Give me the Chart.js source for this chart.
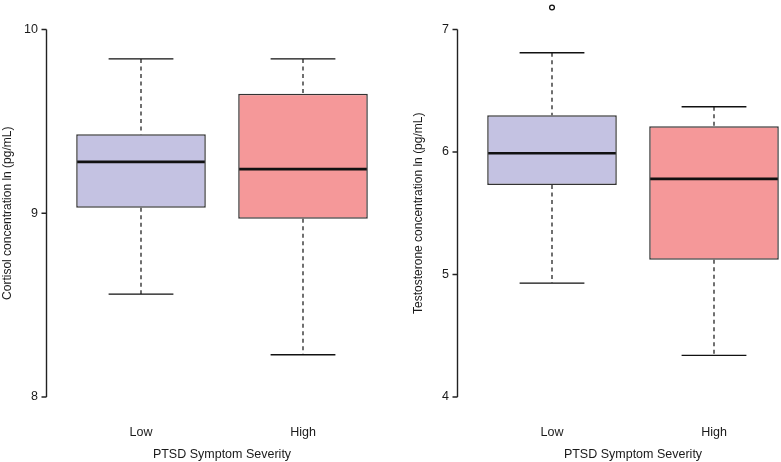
<!DOCTYPE html>
<html>
<head>
<meta charset="utf-8">
<script src="https://cdn.jsdelivr.net/npm/chart.js@4"></script>
<style>
  html, body { margin: 0; padding: 0; background: #fff; overflow: hidden; }
  body { width: 781px; height: 462px; position: relative; }
  .panel { position: absolute; top: 0; width: 384px; height: 462px; }
</style>
</head>
<body>
<div class="panel" style="left:0"><canvas id="cortisolChart"></canvas></div>
<div class="panel" style="left:411px"><canvas id="testoChart"></canvas></div>
<script>
const categories = ['Low', 'High'];
const groupColors = ['#c4c2e2', '#f59899'];

// cortisol, ln (pg/mL)
const cortisolMin = [8.56, 8.23];
const cortisolQ1 = [9.03, 8.97];
const cortisolMedian = [9.28, 9.24];
const cortisolQ3 = [9.43, 9.65];
const cortisolMax = [9.84, 9.84];
const cortisolOutliers = [[], []];
const cortisolTicks = [8, 9, 10];

// testosterone, ln (pg/mL)
const testoMin = [4.93, 4.34];
const testoQ1 = [5.73, 5.12];
const testoMedian = [5.99, 5.78];
const testoQ3 = [6.30, 6.21];
const testoMax = [6.81, 6.37];
const testoOutliers = [[7.18], []];
const testoTicks = [4, 5, 6, 7];

Chart.defaults.font.family = "'Liberation Sans', Arial, sans-serif";
Chart.defaults.font.size = 12;
Chart.defaults.color = '#1a1a1a';

/* whiskers, medians, outliers and the R-style detached axis */
const boxPlugin = {
  id: 'boxParts',
  beforeDatasetsDraw(chart, args, opts) {
    const ctx = chart.ctx, y = chart.scales.y;
    const bars = chart.getDatasetMeta(0).data;
    ctx.save();
    bars.forEach((bar, i) => {
      const half = bar.width / 4;
      const yMin = y.getPixelForValue(opts.min[i]);
      const yMax = y.getPixelForValue(opts.max[i]);
      const yQ1 = y.getPixelForValue(opts.q1[i]);
      const yQ3 = y.getPixelForValue(opts.q3[i]);
      ctx.strokeStyle = '#111';
      ctx.lineWidth = 1.2;
      ctx.setLineDash([4, 3.5]);
      ctx.beginPath();
      ctx.moveTo(bar.x, yMax); ctx.lineTo(bar.x, yQ3);
      ctx.moveTo(bar.x, yQ1); ctx.lineTo(bar.x, yMin);
      ctx.stroke();
      ctx.setLineDash([]);
      ctx.lineWidth = 1.4;
      ctx.beginPath();
      ctx.moveTo(bar.x - half, yMax); ctx.lineTo(bar.x + half, yMax);
      ctx.moveTo(bar.x - half, yMin); ctx.lineTo(bar.x + half, yMin);
      ctx.stroke();
    });
    ctx.restore();
  },
  afterDatasetsDraw(chart, args, opts) {
    const ctx = chart.ctx, y = chart.scales.y;
    const bars = chart.getDatasetMeta(0).data;
    ctx.save();
    bars.forEach((bar, i) => {
      const ym = y.getPixelForValue(opts.median[i]);
      ctx.strokeStyle = '#111';
      ctx.lineWidth = 2.7;
      ctx.beginPath();
      ctx.moveTo(bar.x - bar.width / 2 + 1, ym);
      ctx.lineTo(bar.x + bar.width / 2 - 1, ym);
      ctx.stroke();
      ctx.lineWidth = 1.3;
      opts.outliers[i].forEach(v => {
        ctx.beginPath();
        ctx.arc(bar.x, y.getPixelForValue(v), 2.4, 0, Math.PI * 2);
        ctx.stroke();
      });
    });
    // detached y axis line with outward ticks
    const ax = chart.chartArea.left - 13.5;
    const t = opts.ticks;
    ctx.strokeStyle = '#222';
    ctx.lineWidth = 1.4;
    ctx.beginPath();
    ctx.moveTo(ax, y.getPixelForValue(t[0]));
    ctx.lineTo(ax, y.getPixelForValue(t[t.length - 1]));
    t.forEach(v => {
      const py = y.getPixelForValue(v);
      ctx.moveTo(ax, py); ctx.lineTo(ax - 5, py);
    });
    ctx.stroke();
    ctx.restore();
  }
};

function makeBoxChart(id, title, q1, q3, median, min, max, outliers, ticks) {
  new Chart(document.getElementById(id), {
    type: 'bar',
    data: {
      labels: categories,
      datasets: [{
        data: q1.map((v, i) => [v, q3[i]]),
        backgroundColor: groupColors,
        borderColor: '#333',
        borderWidth: 1.5,
        borderSkipped: false,
        categoryPercentage: 1,
        barPercentage: 0.8
      }]
    },
    options: {
      responsive: false,
      animation: false,
      layout: { padding: { top: 26, right: 0, bottom: 0, left: 0 } },
      plugins: {
        legend: { display: false },
        tooltip: { enabled: false },
        boxParts: { q1, q3, median, min, max, outliers, ticks }
      },
      scales: {
        x: {
          grid: { display: false, drawTicks: false },
          border: { display: false },
          ticks: { padding: 28, font: { size: 12.5 } },
          title: { display: true, text: 'PTSD Symptom Severity', padding: { top: 0, bottom: 0 }, font: { size: 12.5 } },
          afterFit: s => { s.height = 65; }
        },
        y: {
          min: ticks[0], max: ticks[ticks.length - 1],
          grid: { display: false, drawTicks: false },
          border: { display: false },
          ticks: { stepSize: 1, padding: 22, font: { size: 12.5 } },
          title: { display: true, text: title, padding: { top: 0, bottom: 0 }, font: { size: 12 } },
          afterFit: s => { s.width = 60; }
        }
      }
    },
    plugins: [boxPlugin]
  });
}

document.querySelectorAll('canvas').forEach(c => { c.width = 384; c.height = 462; });

makeBoxChart('cortisolChart', 'Cortisol concentration ln (pg/mL)',
  cortisolQ1, cortisolQ3, cortisolMedian, cortisolMin, cortisolMax, cortisolOutliers, cortisolTicks);
makeBoxChart('testoChart', 'Testosterone concentration ln (pg/mL)',
  testoQ1, testoQ3, testoMedian, testoMin, testoMax, testoOutliers, testoTicks);
</script>
</body>
</html>
